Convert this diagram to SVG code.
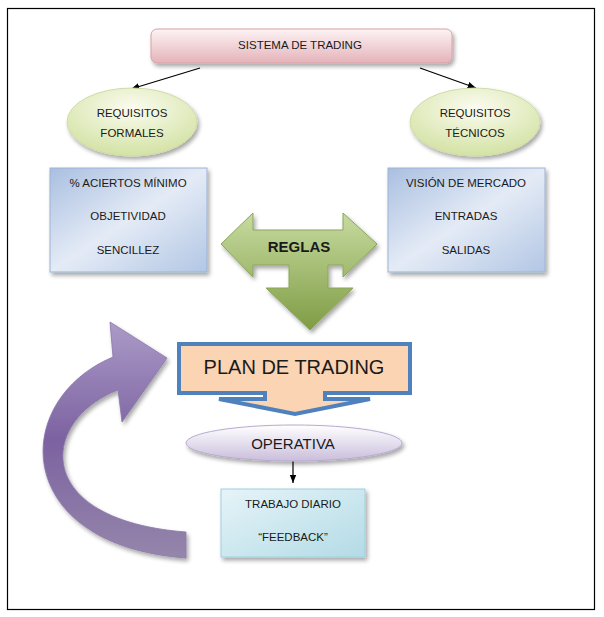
<svg xmlns="http://www.w3.org/2000/svg" width="604" height="617" viewBox="0 0 604 617">
<defs>
  <linearGradient id="gPink" x1="0" y1="0" x2="0" y2="1">
    <stop offset="0" stop-color="#fdf3f4"/>
    <stop offset="1" stop-color="#e4b3b9"/>
  </linearGradient>
  <radialGradient id="gGreenEl" cx="0.5" cy="0.3" r="0.7">
    <stop offset="0" stop-color="#fbfcf0"/>
    <stop offset="1" stop-color="#d3e2a4"/>
  </radialGradient>
  <linearGradient id="gBlue" x1="0" y1="0" x2="1" y2="1">
    <stop offset="0" stop-color="#a9bfe0"/>
    <stop offset="0.5" stop-color="#e4ebf6"/>
    <stop offset="1" stop-color="#b2c6e4"/>
  </linearGradient>
  <linearGradient id="gGreen" x1="0" y1="0" x2="0" y2="1">
    <stop offset="0" stop-color="#c7dba0"/>
    <stop offset="1" stop-color="#7f9c44"/>
  </linearGradient>
  <linearGradient id="gLav" x1="0" y1="0" x2="0" y2="1">
    <stop offset="0" stop-color="#ffffff"/>
    <stop offset="1" stop-color="#c9bedc"/>
  </linearGradient>
  <linearGradient id="gCyan" x1="0" y1="0" x2="1" y2="1">
    <stop offset="0" stop-color="#e6f4f8"/>
    <stop offset="1" stop-color="#b3dbe6"/>
  </linearGradient>
  <linearGradient id="gPurple" x1="0" y1="0" x2="0" y2="1">
    <stop offset="0" stop-color="#ab9bc8"/>
    <stop offset="0.5" stop-color="#7c62a0"/>
    <stop offset="1" stop-color="#9586ab"/>
  </linearGradient>
  <filter id="sh" x="-10%" y="-10%" width="125%" height="130%">
    <feGaussianBlur in="SourceAlpha" stdDeviation="2"/>
    <feOffset dx="2" dy="3"/>
    <feComponentTransfer><feFuncA type="linear" slope="0.35"/></feComponentTransfer>
    <feMerge><feMergeNode/><feMergeNode in="SourceGraphic"/></feMerge>
  </filter>
  <marker id="ah" viewBox="0 0 10 10" refX="10" refY="5" markerWidth="7" markerHeight="7" orient="auto">
    <path d="M0,1 L10,5 L0,9 Z" fill="#000"/>
  </marker>
  <style>
    text { font-family: "Liberation Sans", Arial, sans-serif; fill: #1a1a1a; text-anchor: middle; dominant-baseline: central; }
    .s12 { font-size: 11.5px; }
    .conn { stroke: #000; stroke-width: 1.2; fill: none; marker-end: url(#ah); }
  </style>
</defs>

<rect x="7.5" y="8.5" width="587" height="601" fill="#fff" stroke="#000" stroke-width="1.2"/>

<g id="connectors">
  <line class="conn" x1="200" y1="68" x2="131" y2="89"/>
  <line class="conn" x1="420" y1="68" x2="476" y2="88"/>
  <line class="conn" x1="293" y1="461" x2="293" y2="483"/>
</g>

<g id="sistema">
  <rect x="151" y="29" width="301" height="34" rx="6" fill="url(#gPink)" stroke="#d9a0a8" stroke-width="1" filter="url(#sh)"/>
  <text class="s12" x="300" y="45">SISTEMA DE TRADING</text>
</g>

<g id="req-formales">
  <ellipse cx="132" cy="122" rx="65" ry="34" fill="url(#gGreenEl)" stroke="#d0dca8" stroke-width="1" filter="url(#sh)"/>
  <text class="s12" x="132" y="113">REQUISITOS</text>
  <text class="s12" x="132" y="133">FORMALES</text>
</g>

<g id="req-tecnicos">
  <ellipse cx="475" cy="122" rx="65" ry="34" fill="url(#gGreenEl)" stroke="#d0dca8" stroke-width="1" filter="url(#sh)"/>
  <text class="s12" x="475" y="113">REQUISITOS</text>
  <text class="s12" x="475" y="133">TÉCNICOS</text>
</g>

<g id="lista-formales">
  <rect x="50" y="168" width="157" height="104" fill="url(#gBlue)" stroke="#9db3d6" stroke-width="1" filter="url(#sh)"/>
  <text class="s12" x="128" y="183">% ACIERTOS MÍNIMO</text>
  <text class="s12" x="128" y="216">OBJETIVIDAD</text>
  <text class="s12" x="128" y="250">SENCILLEZ</text>
</g>

<g id="lista-tecnicos">
  <rect x="388" y="168" width="157" height="104" fill="url(#gBlue)" stroke="#9db3d6" stroke-width="1" filter="url(#sh)"/>
  <text class="s12" x="466" y="183">VISIÓN DE MERCADO</text>
  <text class="s12" x="466" y="216">ENTRADAS</text>
  <text class="s12" x="466" y="250">SALIDAS</text>
</g>

<g id="reglas">
  <path d="M221,244 L253,213 L253,230 L343,230 L343,213 L377,244 L343,277 L343,265 L328,265 L328,288 L353,288 L310,330 L266,288 L289,288 L289,265 L253,265 L253,277 Z" fill="url(#gGreen)" stroke="#8aa65a" stroke-width="1" filter="url(#sh)"/>
  <text x="299" y="246" style="font-size:15px;font-weight:bold">REGLAS</text>
</g>

<g id="plan">
  <path d="M179,344 L410,344 L410,393 L325,393 L325,399 L370,399 L295,414 L219,399 L265,399 L265,393 L179,393 Z" fill="#fbd4b4" stroke="#4f81bd" stroke-width="4" stroke-linejoin="miter"/>
  <text x="294" y="367" style="font-size:20px">PLAN DE TRADING</text>
</g>

<g id="operativa">
  <ellipse cx="294" cy="443" rx="108" ry="18" fill="url(#gLav)" stroke="#b8aace" stroke-width="1" filter="url(#sh)"/>
  <text x="293" y="443" style="font-size:15px">OPERATIVA</text>
</g>

<g id="trabajo">
  <rect x="221" y="489" width="144" height="68" fill="url(#gCyan)" stroke="#9fd0de" stroke-width="1" filter="url(#sh)"/>
  <text class="s12" x="293" y="504">TRABAJO DIARIO</text>
  <text class="s12" x="293" y="537">“FEEDBACK”</text>
</g>

<g id="ciclo">
  <path d="M186,532 C30,520 40,420 118,390 L122,422 L167,358 L110,322 L113,357 C10,400 10,545 186,558 Z" fill="url(#gPurple)" stroke="#8a76a8" stroke-width="0.8" filter="url(#sh)"/>
</g>
</svg>
